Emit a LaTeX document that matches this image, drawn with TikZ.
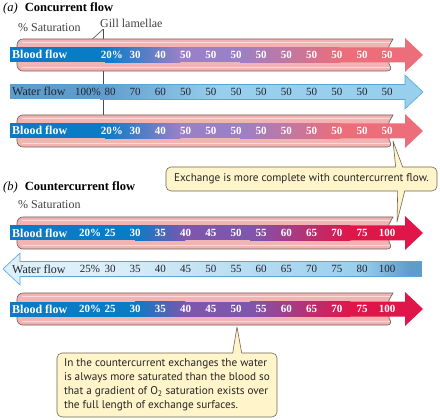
\documentclass[tikz,border=0pt]{standalone}
\usepackage{fontspec}
\setmainfont{Liberation Serif}
\newfontfamily\notefont{PT Sans}
\usepackage{tikz}
\usetikzlibrary{calc}
\definecolor{bloodblue}{HTML}{0A7CC6}
\definecolor{concpurple}{HTML}{9A80C6}
\definecolor{concred}{HTML}{EC6E7A}
\definecolor{ccpurple}{HTML}{7E56AC}
\definecolor{ccred}{HTML}{E0164A}
\definecolor{tubepink}{HTML}{F2B4B2}
\definecolor{tubeline}{HTML}{6E5A58}
\definecolor{tubeshine}{HTML}{FBDCDA}
\definecolor{waterdark}{HTML}{5E9CCC}
\definecolor{waterlight}{HTML}{98CFEC}
\definecolor{waterpale}{HTML}{DDEFF8}
\definecolor{waterline}{HTML}{56A6D6}
\definecolor{waterink}{HTML}{23232F}
\definecolor{callfill}{HTML}{FFF4CA}
\definecolor{callline}{HTML}{6F6552}

\begin{document}
\begin{tikzpicture}[x=1pt, y=-1pt,
    tube/.style={draw=tubeline, fill=tubepink, line width=0.6pt},
    shine/.style={draw=tubeshine, line width=0.9pt},
    title/.style={anchor=west, inner sep=0pt, font=\fontsize{12.5}{14}\selectfont},
    sat/.style={anchor=west, inner sep=0pt, text=black!75,
        font=\fontsize{12}{14}\selectfont},
    rowlabel/.style={anchor=base west, yshift=-4pt, inner sep=0pt,
        font=\fontsize{12}{14}\selectfont\bfseries, text=white},
    waterlabel/.style={anchor=base west, yshift=-4pt, inner sep=0pt,
        font=\fontsize{12}{14}\selectfont, text=waterink},
    num/.style={anchor=base, yshift=-3.8pt, inner sep=0pt,
        font=\fontsize{11}{13}\selectfont\bfseries, text=white},
    wnum/.style={anchor=base, yshift=-3.8pt, inner sep=0pt,
        font=\fontsize{11}{13}\selectfont, text=waterink},
    leader/.style={draw=black!70, line width=0.6pt},
    callout/.style={draw=callline, fill=callfill, rounded corners=5pt,
        line width=0.6pt, text=black!85, font=\notefont\fontsize{11.2}{14}\selectfont},
    pointer/.style={fill=callfill},
    pointerline/.style={draw=callline, line width=0.6pt, line join=round}
]
\useasboundingbox (0,0) rectangle (440,420);

% Headings
\node[title] (tita) at (3,8) {\textit{(a)}\hspace{7pt}\textbf{Concurrent flow}};
\node[sat] (sata) at (18,28) {\% Saturation};
\node[sat] (gill) at (100,23) {Gill lamellae};
\node[title] (titb) at (3,187) {\textit{(b)}\hspace{7pt}\textbf{Countercurrent flow}};
\node[sat] (satb) at (18,205) {\% Saturation};

% Gill lamellae leaders (behind the tubes)
\coordinate (lam1) at (88,43);
\coordinate (lam3) at (103,120);
\draw[leader] ([xshift=3pt,yshift=-2pt]gill.south west) -- (lam1);
\draw[leader] ([xshift=3pt,yshift=-2pt]gill.south west) -- (lam3);

% Tubes (lamellae)
\foreach \ty in {55,131,233,309} {
    \draw[tube, rounded corners=6pt] (393,\ty-16) -- (17,\ty-16) -- (17,\ty+16)
        -- (393,\ty+16) [sharp corners] -- (389,\ty+9) -- (389,\ty-9) -- cycle;
    \draw[shine] (22,\ty-12.5) -- (390,\ty-12.5);
    \draw[shine] (22,\ty+12.5) -- (390,\ty+12.5);
}

% Concurrent blood flow
\foreach \ty in {55,131} {
    \fill[bloodblue] (10,\ty-7.5) rectangle (105.3,\ty+7.5);
    \shade[left color=bloodblue, right color=concpurple] (105,\ty-7.5) rectangle (180.3,\ty+7.5);
    \fill[concpurple] (180,\ty-7.5) rectangle (240.3,\ty+7.5);
    \shade[left color=concpurple, right color=concred] (240,\ty-7.5) rectangle (340.3,\ty+7.5);
    \fill[concred] (340,\ty-7.5) -- (405,\ty-7.5) -- (405,\ty-17) -- (423,\ty)
        -- (405,\ty+17) -- (405,\ty+7.5) -- (340,\ty+7.5) -- cycle;
}

% Concurrent water flow
\fill[waterdark] (10,84.5) rectangle (100.3,99.5);
\shade[left color=waterdark, right color=waterlight] (100,84.5) rectangle (220.3,99.5);
\fill[waterlight] (220,84.5) -- (405,84.5) -- (405,75) -- (423,92) -- (405,109)
    -- (405,99.5) -- (220,99.5) -- cycle;
\draw[waterline, line width=0.6pt] (100,84.5) -- (405,84.5) -- (405,75) -- (423,92)
    -- (405,109) -- (405,99.5) -- (100,99.5);

% Countercurrent blood flow
\foreach \ty in {233,309} {
    \fill[bloodblue] (10,\ty-7.5) rectangle (135.3,\ty+7.5);
    \shade[left color=bloodblue, right color=ccpurple] (135,\ty-7.5) rectangle (185.3,\ty+7.5);
    \fill[ccpurple] (185,\ty-7.5) rectangle (250.3,\ty+7.5);
    \shade[left color=ccpurple, right color=ccred] (250,\ty-7.5) rectangle (350.3,\ty+7.5);
    \fill[ccred] (350,\ty-7.5) -- (405,\ty-7.5) -- (405,\ty-17) -- (423,\ty)
        -- (405,\ty+17) -- (405,\ty+7.5) -- (350,\ty+7.5) -- cycle;
}

% Countercurrent water flow (right to left)
\fill[waterpale] (100.3,261.5) -- (20,261.5) -- (20,253) -- (3,269) -- (20,285)
    -- (20,276.5) -- (100.3,276.5) -- cycle;
\shade[left color=waterpale, right color=waterlight] (100,261.5) rectangle (360.3,276.5);
\shade[left color=waterlight, right color=waterdark] (360,261.5) rectangle (410.3,276.5);
\fill[waterdark] (410,261.5) rectangle (422,276.5);
\draw[waterline, line width=0.6pt] (422,261.5) -- (20,261.5) -- (20,253) -- (3,269)
    -- (20,285) -- (20,276.5) -- (422,276.5);

% Row labels
\node[rowlabel] (blood1) at (12,55) {Blood flow};
\node[waterlabel] (water2) at (12,92) {Water flow};
\node[rowlabel] (blood3) at (12,131) {Blood flow};
\node[rowlabel] (blood4) at (12,233) {Blood flow};
\node[waterlabel] (water5) at (12,269) {Water flow};
\node[rowlabel] (blood6) at (12,309) {Blood flow};

% Saturation values
\node[num, anchor=base east] (p1) at (123,55) {20\%};
\node[wnum, anchor=base east] (p2) at (101,92) {100\%};
\node[num, anchor=base east] (p3) at (123,131) {20\%};
\node[num] (p4) at (90,233) {20\%};
\node[wnum] (p5) at (90,269) {25\%};
\node[num] (p6) at (90,309) {20\%};
\foreach \v [count=\i from 1] in {30,40,50,50,50,50,50,50,50,50,50} {
    \node[num] (a1-\i) at (110+25.2*\i,55) {\v};
    \node[num] (a3-\i) at (110+25.2*\i,131) {\v};
}
\foreach \v [count=\i from 0] in {80,70,60,50,50,50,50,50,50,50,50,50}
    \node[wnum] (a2-\i) at (110+25.2*\i,92) {\v};
\foreach \v [count=\i from 0] in {25,30,35,40,45,50,55,60,65,70,75,100} {
    \node[num] (b4-\i) at (110+25.2*\i,233) {\v};
    \node[num] (b6-\i) at (110+25.2*\i,309) {\v};
}
\foreach \v [count=\i from 0] in {30,35,40,45,50,55,60,65,70,75,80,100}
    \node[wnum] (b5-\i) at (110+25.2*\i,269) {\v};

% Callout: exchange
\node[callout, minimum width=271pt, minimum height=24pt, inner sep=0pt] (note1)
    at (301.5,179) {Exchange is more complete with countercurrent flow.};
\coordinate (tipup) at (393,141);
\coordinate (tipdown) at (397,222);
\fill[pointer] ([xshift=230pt,yshift=-1.5pt]note1.north west) -- (tipup)
    -- ([xshift=237pt,yshift=-1.5pt]note1.north west) -- cycle;
\draw[pointerline] ([xshift=230pt,yshift=-0.3pt]note1.north west) -- (tipup)
    -- ([xshift=237pt,yshift=-0.3pt]note1.north west);
\fill[pointer] ([xshift=232pt,yshift=1.5pt]note1.south west) -- (tipdown)
    -- ([xshift=239pt,yshift=1.5pt]note1.south west) -- cycle;
\draw[pointerline] ([xshift=232pt,yshift=0.3pt]note1.south west) -- (tipdown)
    -- ([xshift=239pt,yshift=0.3pt]note1.south west);

% Callout: gradient
\node[callout, align=left, inner xsep=6pt, inner ysep=4pt,
    minimum width=220pt, minimum height=64pt] (note2) at (167,385)
    {In the countercurrent exchanges the water\\
     is always more saturated than the blood so\\
     that a gradient of O\textsubscript{2} saturation exists over\\
     the full length of exchange surfaces.};
\coordinate (tipnote) at (237,327);
\fill[pointer] ([xshift=176pt,yshift=-1.5pt]note2.north west) -- (tipnote)
    -- ([xshift=185pt,yshift=-1.5pt]note2.north west) -- cycle;
\draw[pointerline] ([xshift=176pt,yshift=-0.3pt]note2.north west) -- (tipnote)
    -- ([xshift=185pt,yshift=-0.3pt]note2.north west);

\end{tikzpicture}
\end{document}
